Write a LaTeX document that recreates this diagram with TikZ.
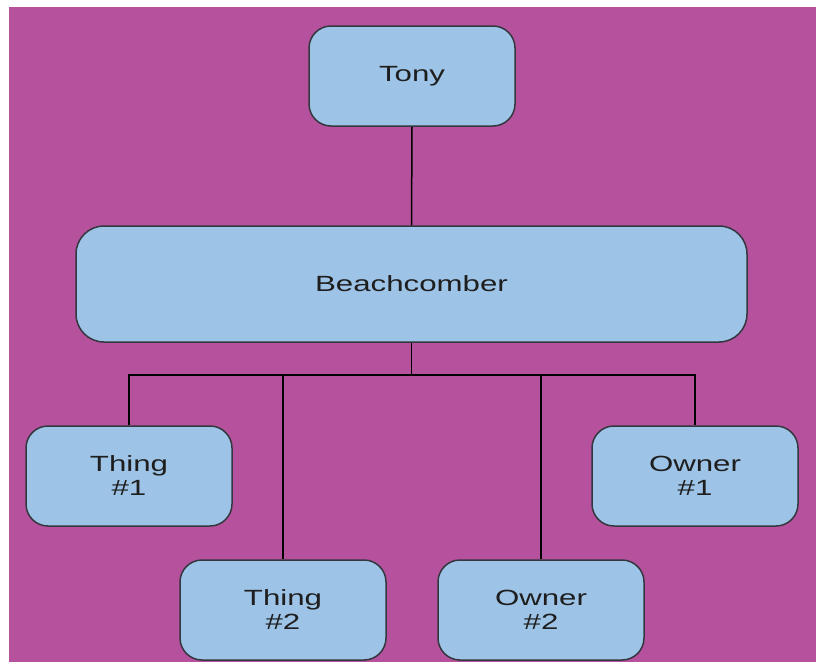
\documentclass[tikz,border=0pt]{standalone}
\usepackage{fontspec}
\setmainfont{Liberation Sans}
\definecolor{bgpurple}{HTML}{B5519D}
\definecolor{boxblue}{HTML}{9DC3E6}
\definecolor{boxline}{HTML}{333840}
\definecolor{txt}{HTML}{1E1E1E}
\newcommand{\wtxt}[1]{\scalebox{1.42}[1]{#1}}
\begin{document}
\begin{tikzpicture}[x=1pt,y=-1pt,
  box/.style={draw=boxline,line width=1.5pt,fill=boxblue,rounded corners=22pt,
    minimum width=206pt,minimum height=100pt,inner sep=0pt,align=center,
    text=txt,font=\fontsize{22}{24}\selectfont},
  wire/.style={draw=black,line width=1.5pt}]
\useasboundingbox (0,0) rectangle (816,662);
\fill[white] (0,0) rectangle (816,662);
\fill[bgpurple] (9,7) rectangle (816,662);
\node[box] (tony) at (412,76) {\wtxt{Tony}};
\node[box,minimum width=671pt,minimum height=116pt,rounded corners=28pt] (bc) at (411.5,284) {\wtxt{Beachcomber}};
\node[box] (t1) at (129,476) {\wtxt{Thing}\\\wtxt{\#1}};
\node[box] (o1) at (695,476) {\wtxt{Owner}\\\wtxt{\#1}};
\node[box] (t2) at (283,610) {\wtxt{Thing}\\\wtxt{\#2}};
\node[box] (o2) at (541,610) {\wtxt{Owner}\\\wtxt{\#2}};
\coordinate (bus) at (411.5,375);
\draw[wire] (tony.south) -- (bc.north);
\draw[wire] (bc.south) -- (bus);
\draw[wire] (bus) -| (t1.north);
\draw[wire] (bus) -| (o1.north);
\draw[wire] (bus) -| (t2.north);
\draw[wire] (bus) -| (o2.north);
\end{tikzpicture}
\end{document}
